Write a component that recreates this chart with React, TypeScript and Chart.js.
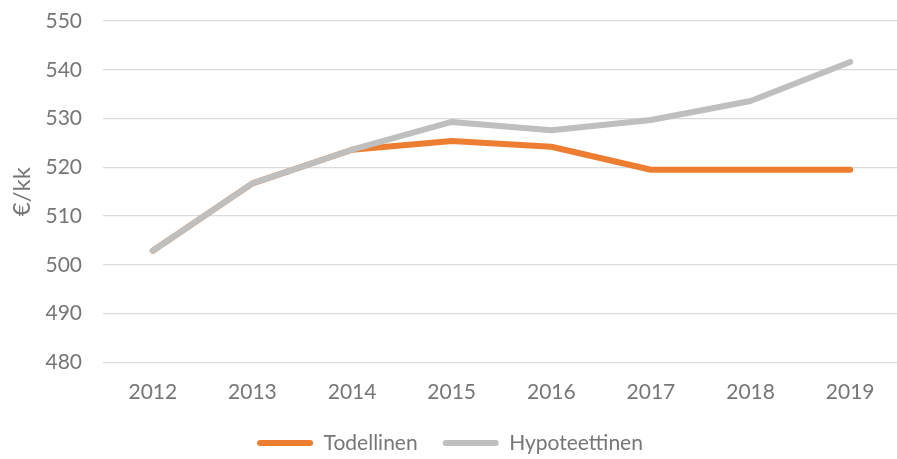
import React, { useEffect, useRef } from 'react';
import { Chart, registerables } from 'chart.js';

Chart.register(...registerables);

const years = ['2012', '2013', '2014', '2015', '2016', '2017', '2018', '2019'];
const todellinen = [502.9, 516.7, 523.6, 525.4, 524.2, 519.5, 519.5, 519.5];
const hypoteettinen = [502.9, 516.7, 523.6, 529.3, 527.6, 529.7, 533.6, 541.6];
const yMin = 480;
const yMax = 550;
const yStep = 10;
const yTitle = '€/kk';

const FONT = 'Lato, "Open Sans", sans-serif';
const TEXT = '#767676';

export default function App() {
  const ref = useRef<HTMLCanvasElement | null>(null);

  useEffect(() => {
    if (!ref.current) return;
    const chart = new Chart(ref.current, {
      type: 'line',
      data: {
        labels: years,
        datasets: [
          {
            label: 'Todellinen',
            data: todellinen,
            borderColor: '#ED7D31',
            backgroundColor: '#ED7D31',
            borderWidth: 6,
            pointRadius: 0,
            borderCapStyle: 'round',
            borderJoinStyle: 'round',
            order: 1,
          },
          {
            label: 'Hypoteettinen',
            data: hypoteettinen,
            borderColor: '#BFBFBF',
            backgroundColor: '#BFBFBF',
            borderWidth: 6,
            pointRadius: 0,
            borderCapStyle: 'round',
            borderJoinStyle: 'round',
            order: 0,
          },
        ],
      },
      options: {
        animation: false,
        responsive: true,
        maintainAspectRatio: false,
        layout: { padding: { top: 21, bottom: -4.5, left: 0, right: 0 } },
        plugins: {
          tooltip: { enabled: false },
          legend: {
            position: 'bottom',
            labels: {
              boxWidth: 56,
              boxHeight: 6,
              useBorderRadius: true,
              borderRadius: 3,
              padding: 25,
              color: TEXT,
              font: { family: FONT, size: 21 },
              sort: (a: any, b: any) => a.datasetIndex - b.datasetIndex,
              generateLabels: (chart: any) => {
                const items = Chart.defaults.plugins.legend.labels.generateLabels(chart);
                return items.map((it: any) => ({ ...it, lineWidth: 0 }));
              },
            },
          },
        },
        scales: {
          x: {
            offset: true,
            grid: { display: false, drawTicks: false },
            border: { display: false },
            ticks: {
              color: TEXT,
              font: { family: FONT, size: 21 },
              padding: 17,
              maxRotation: 0,
            },
            afterFit: (scale: any) => {
              scale.height = 45.2;
            },
          },
          y: {
            min: yMin,
            max: yMax,
            ticks: {
              stepSize: yStep,
              color: TEXT,
              font: { family: FONT, size: 21 },
              padding: 21,
            },
            grid: { color: '#DCDCDC', lineWidth: 1.3, drawTicks: false },
            border: { display: false },
            title: {
              display: true,
              text: yTitle,
              color: TEXT,
              font: { family: FONT, size: 24 },
              padding: { top: 8, bottom: 0 },
            },
            afterFit: (scale: any) => {
              scale.width = 103;
              scale.paddingTop = 0;
              scale.paddingBottom = 0;
            },
          },
        },
      },
    });
    return () => chart.destroy();
  }, []);

  return (
    <div style={{ position: 'absolute', left: 0, top: 0, width: 897, height: 459, overflow: 'hidden', background: '#fff' }}>
      <div style={{ position: 'relative', width: 900, height: 459 }}>
        <canvas ref={ref} />
      </div>
    </div>
  );
}
